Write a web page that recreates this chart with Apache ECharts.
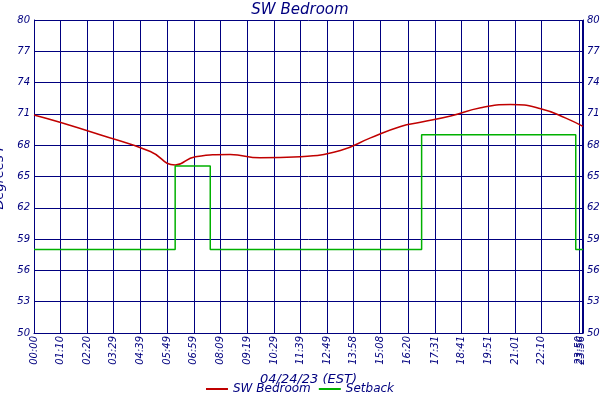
<!DOCTYPE html><html><head><meta charset="utf-8"><script src="https://cdn.jsdelivr.net/npm/echarts@6/dist/echarts.min.js"></script></head><body style="margin:0"><div id="c" style="width:600px;height:400px"></div><script>
const tickMins=[0,70,140,209,279,349,419,489,559,629,699,769,838,908,980,1051,1121,1191,1261,1330,1430,1436,1439];
const tickLabels=['00:00','01:10','02:20','03:29','04:39','05:49','06:59','08:09','09:19','10:29','11:39','12:49','13:58','15:08','16:20','17:31','18:41','19:51','21:01','22:10','23:50','23:56','23:59'];
const tempMin=[0,68,173,305,370,423,514,593,698,803,882,961,1013,1092,1171,1249,1328,1394,1439];
const tempVal=[70.9,70.2,69.0,67.4,66.1,66.9,67.1,66.8,66.9,67.5,68.7,69.8,70.2,70.8,71.6,71.9,71.5,70.6,69.8];
const setMin=[0,370,462,1016,1420,1439];
const setVal=[58.0,66.0,58.0,69.0,58.0,58.0];
const navy='#00007f';const ff='DejaVu Sans';
const lab={}; tickMins.forEach((m,i)=>lab[m]=tickLabels[i]);
const c=echarts.init(document.getElementById('c'));
c.setOption({animation:false,backgroundColor:'#fff',
title:{text:'SW Bedroom',left:'center',top:-2,textStyle:{color:navy,fontFamily:ff,fontStyle:'italic',fontSize:15,fontWeight:'normal'}},
legend:{bottom:0,itemWidth:22,itemHeight:2,icon:'rect',textStyle:{color:navy,fontFamily:ff,fontStyle:'italic',fontSize:12},data:['SW Bedroom','Setback']},
grid:{left:34,right:17,top:20,bottom:67,containLabel:false,outerBoundsMode:'none'},
xAxis:{type:'value',min:0,max:1439,name:'04/24/23 (EST)',nameLocation:'middle',nameGap:13,nameTextStyle:{color:navy,fontFamily:ff,fontStyle:'italic',fontSize:13,verticalAlign:'top'},
 axisLine:{lineStyle:{color:navy}},axisTick:{show:false,customValues:tickMins},
 axisLabel:{customValues:tickMins,rotate:90,color:navy,fontFamily:ff,fontStyle:'italic',fontSize:10,margin:3,formatter:v=>lab[v]||''},
 splitLine:{show:true,lineStyle:{color:navy,width:1}}},
yAxis:[{type:'value',min:50,max:80,interval:3,name:'Degrees F',nameLocation:'middle',nameGap:22,nameTextStyle:{color:navy,fontFamily:ff,fontStyle:'italic',fontSize:13},
 axisLine:{show:true,lineStyle:{color:navy}},axisTick:{show:false},axisLabel:{color:navy,fontFamily:ff,fontStyle:'italic',fontSize:10,margin:4},splitLine:{lineStyle:{color:navy}}},
 {type:'value',min:50,max:80,interval:3,position:'right',axisLine:{show:true,lineStyle:{color:navy}},axisTick:{show:false},axisLabel:{color:navy,fontFamily:ff,fontStyle:'italic',fontSize:10,margin:4},splitLine:{show:false}}],
series:[{name:'SW Bedroom',type:'line',symbol:'none',smooth:true,color:'#c00000',lineStyle:{width:1.5},data:tempMin.map((m,i)=>[m,tempVal[i]])},
{name:'Setback',type:'line',step:'end',symbol:'none',color:'#00b000',lineStyle:{width:1.5},data:setMin.map((m,i)=>[m,setVal[i]])}]
});
</script></body></html>
